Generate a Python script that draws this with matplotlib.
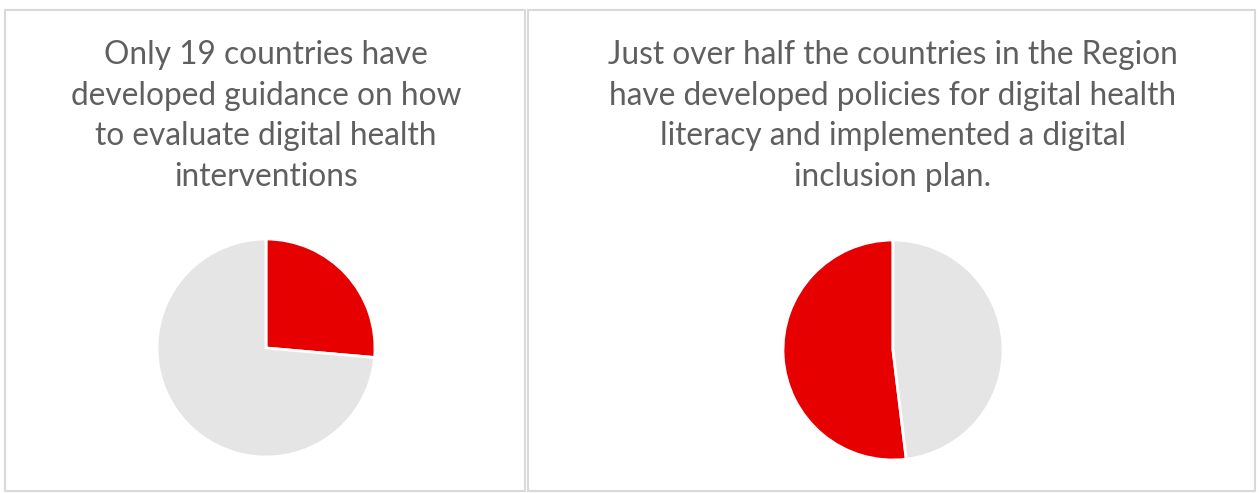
import matplotlib.pyplot as plt
from matplotlib.patches import Rectangle

# data
left_labels = ["Developed guidance", "Not developed"]
left_values = [19, 53]
right_labels = ["Developed policies", "Not developed"]
right_values = [27, 25]

left_title = "Only 19 countries have\ndeveloped guidance on how\nto evaluate digital health\ninterventions"
right_title = ("Just over half the countries in the Region\nhave developed policies for digital health\n"
               "literacy and implemented a digital\ninclusion plan.")

RED = "#E60000"
GREY = "#E5E5E5"
TEXT = "#5F5F5F"

plt.rcParams['font.family'] = ['Lato', 'DejaVu Sans']

W, H = 1259, 493
fig = plt.figure(figsize=(W / 100, H / 100), dpi=100)

# panel borders
for x0, x1 in [(5, 525), (528, 1255)]:
    fig.add_artist(Rectangle((x0 / W, 1 - 491 / H), (x1 - x0) / W, (491 - 10) / H,
                             transform=fig.transFigure, fill=False,
                             edgecolor="#D9D9D9", linewidth=1.5))


def pie_axes(cx, cy, r):
    ax = fig.add_axes([(cx - r) / W, 1 - (cy + r) / H, 2 * r / W, 2 * r / H])
    return ax


ax1 = pie_axes(266, 348, 109)
ax1.pie(left_values, colors=[RED, GREY], startangle=90, counterclock=False,
        wedgeprops=dict(edgecolor="white", linewidth=2))

ax2 = pie_axes(893, 350, 110)
ax2.pie(right_values, colors=[RED, GREY], startangle=90, counterclock=True,
        wedgeprops=dict(edgecolor="white", linewidth=2))

for ax in (ax1, ax2):
    ax.set_xlim(-1, 1)
    ax.set_ylim(-1, 1)
    ax.set_aspect("equal")

fig.text(266 / W, 1 - 40 / H, left_title, ha="center", va="top", color=TEXT,
         fontsize=22.8, linespacing=1.44)
fig.text(893 / W, 1 - 40 / H, right_title, ha="center", va="top", color=TEXT,
         fontsize=22.8, linespacing=1.44)

fig.savefig("out.png", dpi=100, facecolor="white")
